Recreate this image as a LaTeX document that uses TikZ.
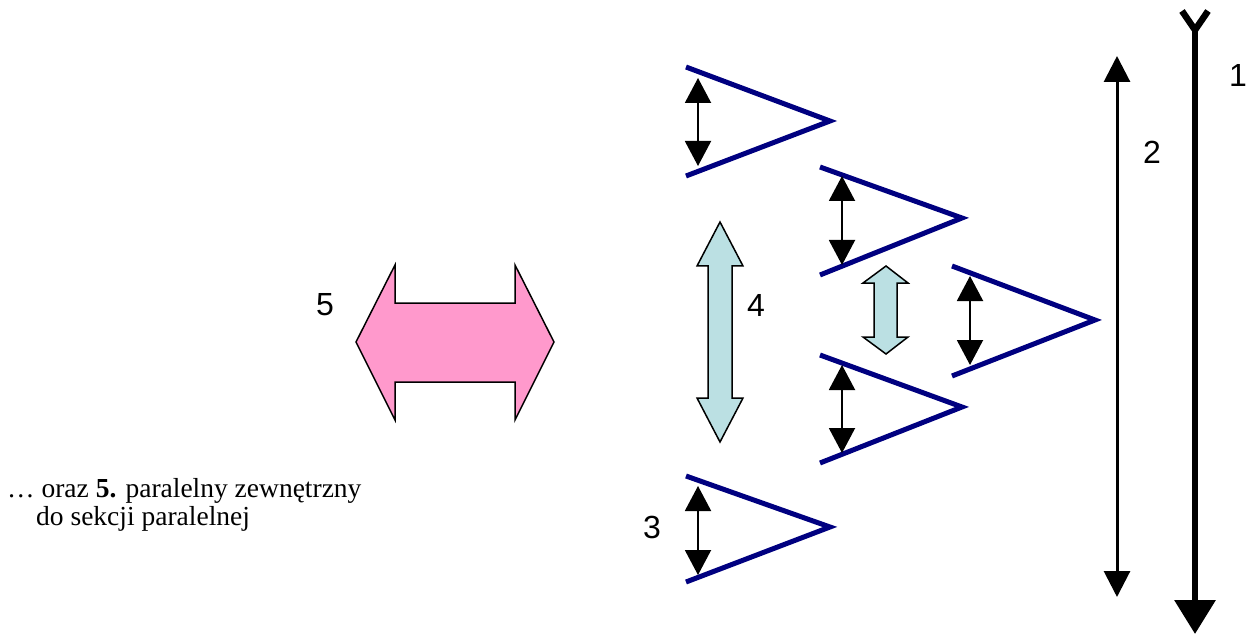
\documentclass[tikz,border=0pt]{standalone}
\usepackage{fontspec}
\setmainfont{Liberation Serif}
\newfontfamily\arialfont{Liberation Sans}
\usetikzlibrary{arrows.meta}
\definecolor{navyline}{RGB}{0,0,128}
\definecolor{pinkfill}{RGB}{255,153,204}
\definecolor{tealfill}{RGB}{187,224,227}
\begin{document}
\begin{tikzpicture}[x=1pt,y=-1pt,
  chev/.style={draw=navyline,line width=5pt,line join=miter},
  dbl/.style={line width=2pt,{Triangle[width=26pt,length=25pt]}-{Triangle[width=26pt,length=25pt]}},
  num/.style={font=\arialfont\fontsize{32}{38}\selectfont,inner sep=0pt},
  fat/.style={draw=black,line width=1.5pt,line join=miter},
  txt/.style={anchor=base west,inner sep=0pt,font=\fontsize{27.5}{32}\selectfont},
  ]
\useasboundingbox (0,0) rectangle (1252,636);

% arrow 1
\coordinate (a1s) at (1195,30);
\coordinate (a1e) at (1195,634);
\draw[line width=6.5pt,line join=miter] (1182,11) -- (a1s) -- (1208,11);
\draw[line width=6.5pt,-{Triangle[width=40pt,length=34pt]}] (a1s) -- (a1e);
\node[num] (l1) at (1238,75) {1};

% arrow 2
\coordinate (a2s) at (1117,56);
\coordinate (a2e) at (1117,597);
\draw[line width=3pt,{Triangle[width=26pt,length=26pt]}-{Triangle[width=26pt,length=26pt]}] (a2s) -- (a2e);
\node[num] (l2) at (1152,152) {2};

% chevrons
\draw[chev] (686,67) -- (830,121) -- (686,176);
\draw[chev] (820,167) -- (962,218) -- (820,275);
\draw[chev] (952,266) -- (1095,320) -- (952,376);
\draw[chev] (820,355) -- (962,407) -- (820,463);
\draw[chev] (686,476) -- (830,527) -- (686,582);

% small double arrows
\coordinate (dA1) at (698,78);  \coordinate (dA2) at (698,166);
\coordinate (dB1) at (842,176); \coordinate (dB2) at (842,265);
\coordinate (dC1) at (970,276); \coordinate (dC2) at (970,365);
\coordinate (dD1) at (842,365); \coordinate (dD2) at (842,453);
\coordinate (dE1) at (698,486); \coordinate (dE2) at (698,575);
\draw[dbl] (dA1) -- (dA2);
\draw[dbl] (dB1) -- (dB2);
\draw[dbl] (dC1) -- (dC2);
\draw[dbl] (dD1) -- (dD2);
\draw[dbl] (dE1) -- (dE2);
\node[num] (l3) at (652,527) {3};

% big teal double arrow 4
\draw[fat,fill=tealfill] (720,222) -- (743,266) -- (732,266) -- (732,398) -- (743,398)
  -- (720,442) -- (697,398) -- (708,398) -- (708,266) -- (697,266) -- cycle;
\node[num] (l4) at (756,305) {4};

% small teal double arrow
\draw[fat,fill=tealfill] (886,266) -- (908,283) -- (897,283) -- (897,337) -- (908,337)
  -- (886,354) -- (863,337) -- (874,337) -- (874,283) -- (863,283) -- cycle;

% pink double arrow 5
\draw[fat,fill=pinkfill] (356,342) -- (395,265) -- (395,303) -- (515,303) -- (515,265)
  -- (554,342) -- (515,420) -- (515,382) -- (395,382) -- (395,420) -- cycle;
\node[num] (l5) at (325,305) {5};

% text
\node[txt] (t1) at (7,497) {… oraz \textbf{5.} paralelny zewnętrzny};
\node[txt] (t2) at (36,525) {do sekcji paralelnej};
\end{tikzpicture}
\end{document}
